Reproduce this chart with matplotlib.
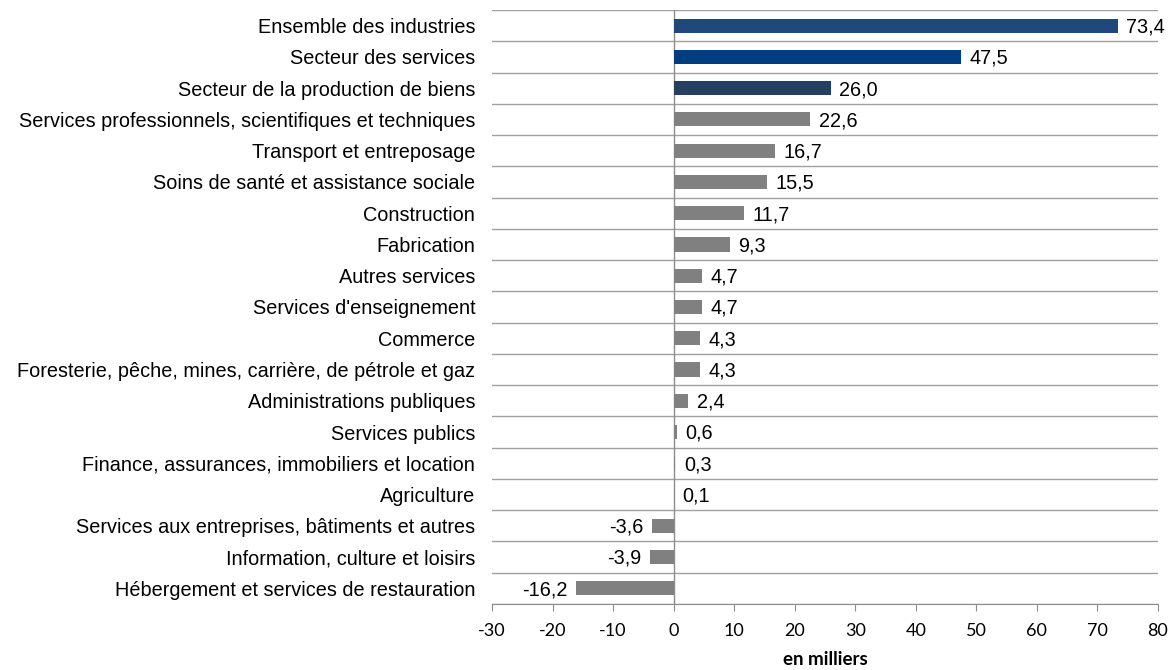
import matplotlib.pyplot as plt
import numpy as np

categories = [
    "Ensemble des industries",
    "Secteur des services",
    "Secteur de la production de biens",
    "Services professionnels, scientifiques et techniques",
    "Transport et entreposage",
    "Soins de santé et assistance sociale",
    "Construction",
    "Fabrication",
    "Autres services",
    "Services d'enseignement",
    "Commerce",
    "Foresterie, pêche, mines, carrière, de pétrole et gaz",
    "Administrations publiques",
    "Services publics",
    "Finance, assurances, immobiliers et location",
    "Agriculture",
    "Services aux entreprises, bâtiments et autres",
    "Information, culture et loisirs",
    "Hébergement et services de restauration",
]
values = [73.4, 47.5, 26.0, 22.6, 16.7, 15.5, 11.7, 9.3, 4.7, 4.7, 4.3, 4.3,
          2.4, 0.6, 0.3, 0.1, -3.6, -3.9, -16.2]
top_colors = ["#1f497d", "#003f7f", "#243f60"]
other_color = "#808080"
xticks = [-30, -20, -10, 0, 10, 20, 30, 40, 50, 60, 70, 80]

colors = top_colors + [other_color] * (len(values) - len(top_colors))

fig = plt.figure(figsize=(11.74, 6.7), dpi=100)
ax = fig.add_axes([492 / 1174, 1 - 604 / 670, 666 / 1174, 594 / 670])

n = len(categories)
y = np.arange(n)
ax.barh(y, values, height=0.45, color=colors, zorder=3)
ax.set_ylim(n - 0.5, -0.5)
ax.set_xlim(-30, 80)

# category separators
for b in np.arange(n + 1) - 0.5:
    ax.axhline(b, color="#a0a0a0", lw=1, zorder=1)
ax.axvline(0, color="#8c8c8c", lw=1, zorder=2)

for yi, v in zip(y, values):
    txt = f"{v:.1f}".replace(".", ",")
    if v >= 0:
        ax.annotate(txt, (v, yi), xytext=(6, -1), textcoords="offset points",
                    ha="left", va="center", fontsize=14.3, family="Liberation Sans")
    else:
        ax.annotate(txt, (v, yi), xytext=(-6, -1), textcoords="offset points",
                    ha="right", va="center", fontsize=14.3, family="Liberation Sans")

ax.set_yticks(y)
ax.set_yticklabels(categories, fontsize=14.3, family="Liberation Sans")
ax.tick_params(axis="y", length=0, pad=12)

ax.set_xticks(xticks)
ax.set_xticklabels([str(t) for t in xticks], fontsize=13, family="Lato")
ax.tick_params(axis="x", length=5, color="#8c8c8c", pad=9)
ax.set_xlabel("en milliers", fontsize=13.5, family="Lato", fontweight="bold", labelpad=8)

for s in ["top", "right", "left"]:
    ax.spines[s].set_visible(False)
ax.spines["bottom"].set_color("#8c8c8c")

fig.savefig("out.png", dpi=100)
